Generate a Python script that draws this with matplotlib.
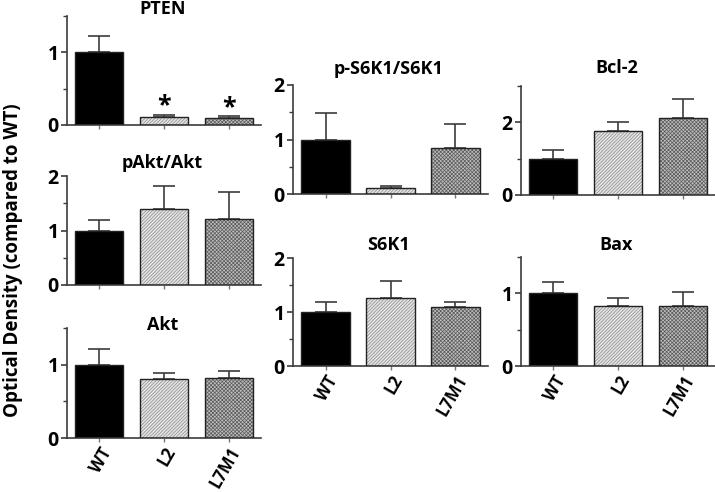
import matplotlib
matplotlib.use("Agg")
import matplotlib.pyplot as plt
import numpy as np
from matplotlib.ticker import MultipleLocator

plt.rcParams['font.family'] = ['Open Sans', 'DejaVu Sans']
plt.rcParams['font.weight'] = 'bold'
plt.rcParams['hatch.linewidth'] = 0.5

groups = ["WT", "L2", "L7M1"]

pten_mean = [1.0, 0.11, 0.09]
pten_err = [0.22, 0.03, 0.03]
pakt_mean = [1.0, 1.39, 1.22]
pakt_err = [0.19, 0.43, 0.49]
akt_mean = [1.0, 0.80, 0.82]
akt_err = [0.22, 0.08, 0.09]
ps6k1_mean = [1.0, 0.11, 0.84]
ps6k1_err = [0.48, 0.03, 0.44]
bcl2_mean = [1.0, 1.77, 2.12]
bcl2_err = [0.24, 0.23, 0.51]
s6k1_mean = [1.0, 1.26, 1.09]
s6k1_err = [0.19, 0.31, 0.09]
bax_mean = [1.0, 0.83, 0.83]
bax_err = [0.16, 0.10, 0.19]

W, H = 715, 492
fig = plt.figure(figsize=(W / 100, H / 100), dpi=100)

AXC = '#3c3c3c'

def add_panel(px, py_top, py_bot, title, title_base, means, errs, ylim, major,
              minor, xlabels=False, stars=None):
    ax = fig.add_axes([px[0] / W, (H - py_bot) / H, (px[1] - px[0]) / W,
                       (py_bot - py_top) / H])
    x = np.arange(len(groups))
    bw = 0.74
    fills = ['black', '#e4e4e4', '#bdbdbd']
    hatches = [None, '//////////', 'xxxxxxxxx']
    hcols = ['black', '#8a8a8a', '#5a5a5a']
    for i in range(3):
        ax.bar(x[i], means[i], width=bw, color=fills[i], hatch=hatches[i],
               edgecolor=hcols[i], linewidth=0, zorder=2)
        ax.bar(x[i], means[i], width=bw, fill=False, edgecolor='#222222',
               linewidth=1.0, zorder=3)
    ax.errorbar(x, means, yerr=[np.zeros(3), errs], fmt='none',
                ecolor=AXC, elinewidth=1.2, capsize=8, capthick=1.2, zorder=1)
    ax.set_xlim(-0.5, 2.5)
    ax.set_ylim(*ylim)
    ax.yaxis.set_major_locator(MultipleLocator(major))
    ax.yaxis.set_minor_locator(MultipleLocator(minor))
    for s in ['top', 'right']:
        ax.spines[s].set_visible(False)
    for s in ['left', 'bottom']:
        ax.spines[s].set_color(AXC)
        ax.spines[s].set_linewidth(1.2)
    ax.tick_params(axis='y', which='major', length=4, width=1.2, color=AXC,
                   labelsize=14, pad=2)
    ax.tick_params(axis='y', which='minor', length=3, width=1.0, color=AXC)
    ax.tick_params(axis='x', length=3, width=1.0, color='#777777',
                   labelsize=12, pad=1.5)
    ax.set_xticks(x)
    if xlabels:
        ax.set_xticklabels(groups, rotation=60, ha='right',
                           rotation_mode='anchor', fontweight='bold')
    else:
        ax.set_xticklabels([])
    for lab in ax.get_yticklabels():
        lab.set_fontweight('bold')
    fig.text((px[0] + px[1]) / 2 / W - 1.5 / W, (H - title_base) / H, title,
             ha='center', va='baseline', fontsize=13, fontweight='bold')
    if stars:
        for i in stars:
            ax.text(x[i], means[i] + errs[i] - 0.05, '*', ha='center',
                    va='bottom', fontsize=18, fontweight='bold')
    return ax

add_panel((67, 261), 16, 125, 'PTEN', 14, pten_mean, pten_err, (0, 1.5), 1, 0.5,
          stars=[1, 2])
add_panel((67, 261), 176, 285, 'pAkt/Akt', 168, pakt_mean, pakt_err, (0, 2), 1, 0.5)
add_panel((67, 261), 328, 438, 'Akt', 330, akt_mean, akt_err, (0, 1.5), 1, 0.5,
          xlabels=True)
add_panel((293, 488), 85, 194, 'p-S6K1/S6K1', 74, ps6k1_mean, ps6k1_err, (0, 2),
          1, 0.5)
add_panel((521, 715), 86, 195, 'Bcl-2', 73, bcl2_mean, bcl2_err, (0, 3), 2, 1)
add_panel((293, 488), 258, 366, 'S6K1', 250, s6k1_mean, s6k1_err, (0, 2), 1, 0.5,
          xlabels=True)
add_panel((521, 715), 257, 366, 'Bax', 250, bax_mean, bax_err, (0, 1.5), 1, 0.5,
          xlabels=True)

fig.text(13 / W, (H - 260) / H, 'Optical Density (compared to WT)',
         rotation=90, ha='center', va='center', fontsize=13.5, fontweight='bold')

fig.savefig('out.png', dpi=100)
